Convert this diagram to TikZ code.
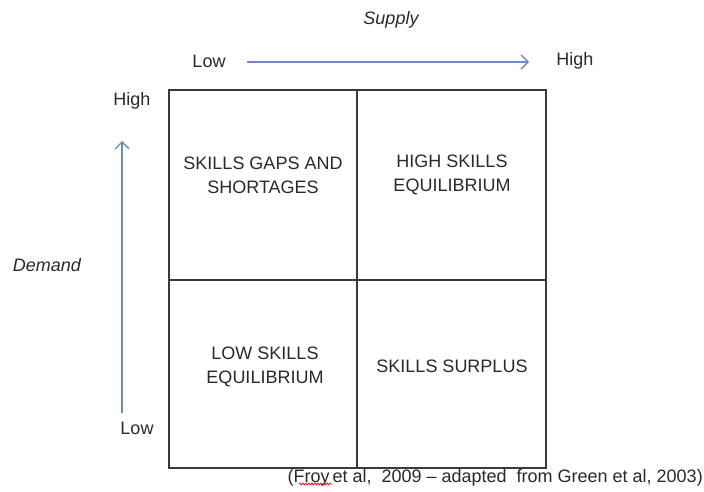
\documentclass[tikz,border=0pt]{standalone}
\usepackage{fontspec}
\setmainfont{Liberation Sans}
\usetikzlibrary{arrows.meta,decorations.pathmorphing}
\definecolor{txt}{HTML}{2A2A2A}
\definecolor{gridc}{HTML}{3A3A3A}
\definecolor{arr}{HTML}{6A8CC4}
\tikzset{
  lbl/.style={text=txt, font=\fontsize{18}{22}\selectfont, inner sep=0pt},
  quad/.style={text=txt, font=\fontsize{18}{24}\selectfont, align=center, inner sep=0pt},
  cell/.style={draw=gridc, line width=1.4pt},
  axisarrow/.style={draw=arr, line width=1.3pt, -{Straight Barb[length=7pt,width=14pt]}}
}
\begin{document}
\begin{tikzpicture}[x=1pt,y=-1pt]
\useasboundingbox (0,0) rectangle (704,492);
\fill[white] (0,0) rectangle (704,492);
% grid
\draw[cell] (169,90) rectangle (546,468);
\draw[cell] (357,90) -- (357,468);
\draw[cell] (169,280) -- (546,280);
% quadrant labels
\node[quad] (q1) at (263,175) {SKILLS GAPS AND\\SHORTAGES};
\node[quad] (q2) at (452,175) {HIGH SKILLS\\EQUILIBRIUM};
\node[quad] (q3) at (265,367) {LOW SKILLS\\EQUILIBRIUM};
\node[quad] (q4) at (452,366) {SKILLS SURPLUS};
% axis labels
\node[lbl, font=\fontsize{18}{22}\selectfont\itshape] (supply) at (391,20) {Supply};
\node[lbl] (slow) at (209,61) {Low};
\node[lbl] (shigh) at (575,61) {High};
\node[lbl] (dhigh) at (132,101) {High};
\node[lbl] (dlow) at (137,428) {Low};
\node[lbl, font=\fontsize{18}{22}\selectfont\itshape] (demand) at (47,265) {Demand};
% arrows
\coordinate (ha) at (247,62);
\coordinate (hb) at (529,62);
\coordinate (va) at (122,413);
\coordinate (vb) at (122,141);
\draw[axisarrow] (ha) -- (hb);
\draw[axisarrow] (va) -- (vb);
% caption
\node[lbl, anchor=east] (cap) at (703,478) {(Froy\,et al,\; 2009 -- adapted\; from Green et al, 2003)};
\coordinate (sq1) at (299,484);
\coordinate (sq2) at (332,484);
\draw[red, line width=0.7pt, decorate, decoration={snake, amplitude=1pt, segment length=3pt}] (sq1) -- (sq2);
\end{tikzpicture}
\end{document}
